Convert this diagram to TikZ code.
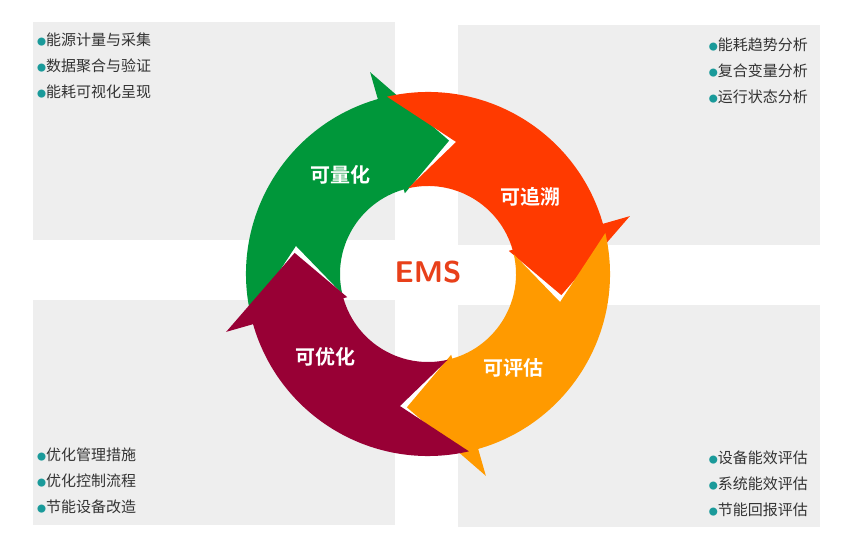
\documentclass[tikz,border=0pt]{standalone}
\usepackage{fontspec}
\newfontfamily\cjk{Noto Sans CJK SC}
\newfontfamily\cjkb{Noto Sans CJK SC Bold}
\usetikzlibrary{positioning}
\definecolor{panel}{HTML}{EEEEEE}
\definecolor{dotc}{HTML}{1A9A9A}
\definecolor{cgreen}{HTML}{00973A}
\definecolor{cred}{HTML}{FF3A00}
\definecolor{corange}{HTML}{FF9A00}
\definecolor{cmaroon}{HTML}{980035}
\definecolor{emsc}{HTML}{E8401A}
\newcommand{\bul}{{\color{dotc}\fontsize{9}{9}\selectfont ●}}
% one curved arrow: tip angle, colour
\newcommand{\ringarrow}[2]{%
  \fill[#2] (#1+112:182) arc[start angle=#1+112,end angle=#1+25,radius=182]
    -- (#1+25:210) -- (#1:135) -- (#1+25:84) -- (#1+25:88)
    arc[start angle=#1+25,end angle=#1+112,radius=88]
    -- (#1+87:135) -- cycle;}
\begin{document}
\begin{tikzpicture}[x=1pt,y=1pt,
    item/.style={font=\cjk\fontsize{15}{18}\selectfont, text=black!80, inner sep=0pt},
    tag/.style={font=\cjkb\fontsize{20}{24}\selectfont, text=white}
]
\useasboundingbox (0,0) rectangle (860,549);

% panels
\fill[panel] (33,549-22) rectangle (395,549-240);
\fill[panel] (458,549-25) rectangle (820,549-245);
\fill[panel] (33,549-300) rectangle (395,549-525);
\fill[panel] (458,549-305) rectangle (820,549-527);

% ring
\begin{scope}[shift={(428,275)}]
  \ringarrow{81}{cgreen}
  \ringarrow{-9}{cred}
  \ringarrow{-99}{corange}
  \ringarrow{171}{cmaroon}
\end{scope}

\node[tag] (quant) at (340,549-175) {可量化};
\node[tag] (trace) at (530,549-197) {可追溯};
\node[tag] (eval) at (513,549-368) {可评估};
\node[tag] (optim) at (325,549-357) {可优化};
\node[font=\sffamily\bfseries\fontsize{30}{34}\selectfont, text=emsc] (ems) at (428,549-272) {EMS};

% top left
\node[item, anchor=west] (tl1) at (37,549-40) {\bul 能源计量与采集};
\node[item, anchor=west] (tl2) at (37,549-66) {\bul 数据聚合与验证};
\node[item, anchor=west] (tl3) at (37,549-92) {\bul 能耗可视化呈现};
% top right
\node[item, anchor=east] (tr1) at (808,549-45) {\bul 能耗趋势分析};
\node[item, anchor=east] (tr2) at (808,549-71) {\bul 复合变量分析};
\node[item, anchor=east] (tr3) at (808,549-97) {\bul 运行状态分析};
% bottom left
\node[item, anchor=west] (bl1) at (37,549-455) {\bul 优化管理措施};
\node[item, anchor=west] (bl2) at (37,549-481) {\bul 优化控制流程};
\node[item, anchor=west] (bl3) at (37,549-507) {\bul 节能设备改造};
% bottom right
\node[item, anchor=east] (br1) at (808,549-458) {\bul 设备能效评估};
\node[item, anchor=east] (br2) at (808,549-484) {\bul 系统能效评估};
\node[item, anchor=east] (br3) at (808,549-510) {\bul 节能回报评估};
\end{tikzpicture}
\end{document}
